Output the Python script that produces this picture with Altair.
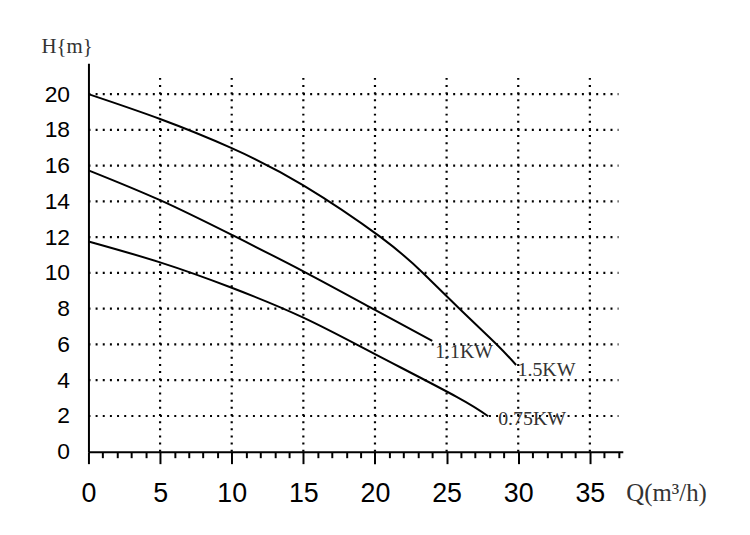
import altair as alt
import pandas as pd

# ---- data ----
q_15 = [0, 5, 10, 15, 20.4, 23.35, 25.9, 28.5, 29.85]
h_15 = [20.0, 18.61, 16.98, 14.9, 12.0, 10.0, 8.0, 6.0, 4.85]
q_11 = [0, 5, 10, 15, 20, 24.0]
h_11 = [15.74, 14.07, 12.13, 10.09, 7.93, 6.2]
q_075 = [0, 5, 10, 15, 20, 25.7, 27.9]
h_075 = [11.76, 10.59, 9.17, 7.5, 5.46, 3.07, 1.98]

label_text = ["1.1KW", "1.5KW", "0.75KW"]
label_q = [24.2, 29.95, 28.6]
label_h = [5.55, 4.55, 1.85]

x_ticks = list(range(0, 38))
grid_x = [5, 10, 15, 20, 25, 30, 35]
grid_y = [2, 4, 6, 8, 10, 12, 14, 16, 18, 20]
y_ticks = [0, 2, 4, 6, 8, 10, 12, 14, 16, 18, 20]

X_MAX = 37.3
Y_MAX = 21.72
VGRID_TOP = 21.1
HGRID_RIGHT = 37.0

rows = []
for name, qs, hs in [("1.5KW", q_15, h_15), ("1.1KW", q_11, h_11), ("0.75KW", q_075, h_075)]:
    for q, h in zip(qs, hs):
        rows.append({"series": name, "Q": q, "H": h})
curves = pd.DataFrame(rows)
labels = pd.DataFrame({"label": label_text, "Q": label_q, "H": label_h})
vgrid = pd.DataFrame({"Q": grid_x, "H0": [0] * len(grid_x), "H1": [VGRID_TOP] * len(grid_x)})
hgrid = pd.DataFrame({"H": grid_y, "Q0": [0] * len(grid_y), "Q1": [HGRID_RIGHT] * len(grid_y)})

xscale = alt.Scale(domain=[0, X_MAX], nice=False, zero=True)
yscale = alt.Scale(domain=[0, Y_MAX], nice=False, zero=True)

xaxis = alt.Axis(
    values=x_ticks,
    grid=False,
    domainColor="black",
    domainWidth=2,
    tickColor="black",
    tickSize={"condition": {"test": "datum.value % 5 === 0", "value": 12}, "value": 6},
    tickWidth=2,
    labelExpr="datum.value % 5 === 0 ? datum.label : ''",
    labelFont="Liberation Sans",
    labelFontSize=27,
    labelColor="black",
    labelPadding=17,
    labelFlush=False,
    labelOverlap=False,
    title="Q(m³/h)",
    titleFont="Liberation Serif",
    titleFontSize=25,
    titleFontWeight="normal",
    titleColor="#333333",
    titleX=541,
    titleY=41,
    titleAlign="left",
    titleBaseline="middle",
    titleAngle=0,
)
yaxis = alt.Axis(
    values=y_ticks,
    grid=False,
    ticks=False,
    tickSize=0,
    domainColor="black",
    domainWidth=2,
    labelFont="Liberation Sans",
    labelFontSize=23,
    labelColor="black",
    labelPadding=19,
    labelBaseline="middle",
    labelFlush=False,
    labelOverlap=False,
    title="H{m}",
    titleFont="Liberation Serif",
    titleFontSize=21,
    titleFontWeight="normal",
    titleColor="#333333",
    titleAngle=0,
    titleX=-22,
    titleY=-17,
    titleAlign="center",
    titleBaseline="middle",
)

dash = [2, 5.2]

vlines = alt.Chart(vgrid).mark_rule(color="black", strokeWidth=2.2, strokeDash=dash, strokeCap="butt").encode(
    x=alt.X("Q:Q", scale=xscale, axis=xaxis),
    y=alt.Y("H0:Q", scale=yscale, axis=yaxis),
    y2="H1:Q",
)
hlines = alt.Chart(hgrid).mark_rule(color="black", strokeWidth=2.2, strokeDash=dash, strokeCap="butt").encode(
    x=alt.X("Q0:Q", scale=xscale, axis=xaxis),
    x2="Q1:Q",
    y=alt.Y("H:Q", scale=yscale, axis=yaxis),
)
lines = alt.Chart(curves).mark_line(color="black", strokeWidth=2, interpolate="natural").encode(
    x=alt.X("Q:Q", scale=xscale, axis=xaxis),
    y=alt.Y("H:Q", scale=yscale, axis=yaxis),
    detail="series:N",
)
texts = alt.Chart(labels).mark_text(
    align="left", baseline="middle", font="Liberation Serif", fontSize=20, color="#333333"
).encode(
    x=alt.X("Q:Q", scale=xscale, axis=xaxis),
    y=alt.Y("H:Q", scale=yscale, axis=yaxis),
    text="label:N",
)

chart = alt.layer(vlines, hlines, lines, texts).properties(
    width=538,
    height=391,
    background="white",
    autosize=alt.AutoSizeParams(type="none"),
    padding={"left": 81, "top": 54, "right": 120, "bottom": 70},
).configure_view(stroke="transparent", strokeWidth=0)

chart.save("out.html", embed_options={"renderer": "svg", "actions": False})
